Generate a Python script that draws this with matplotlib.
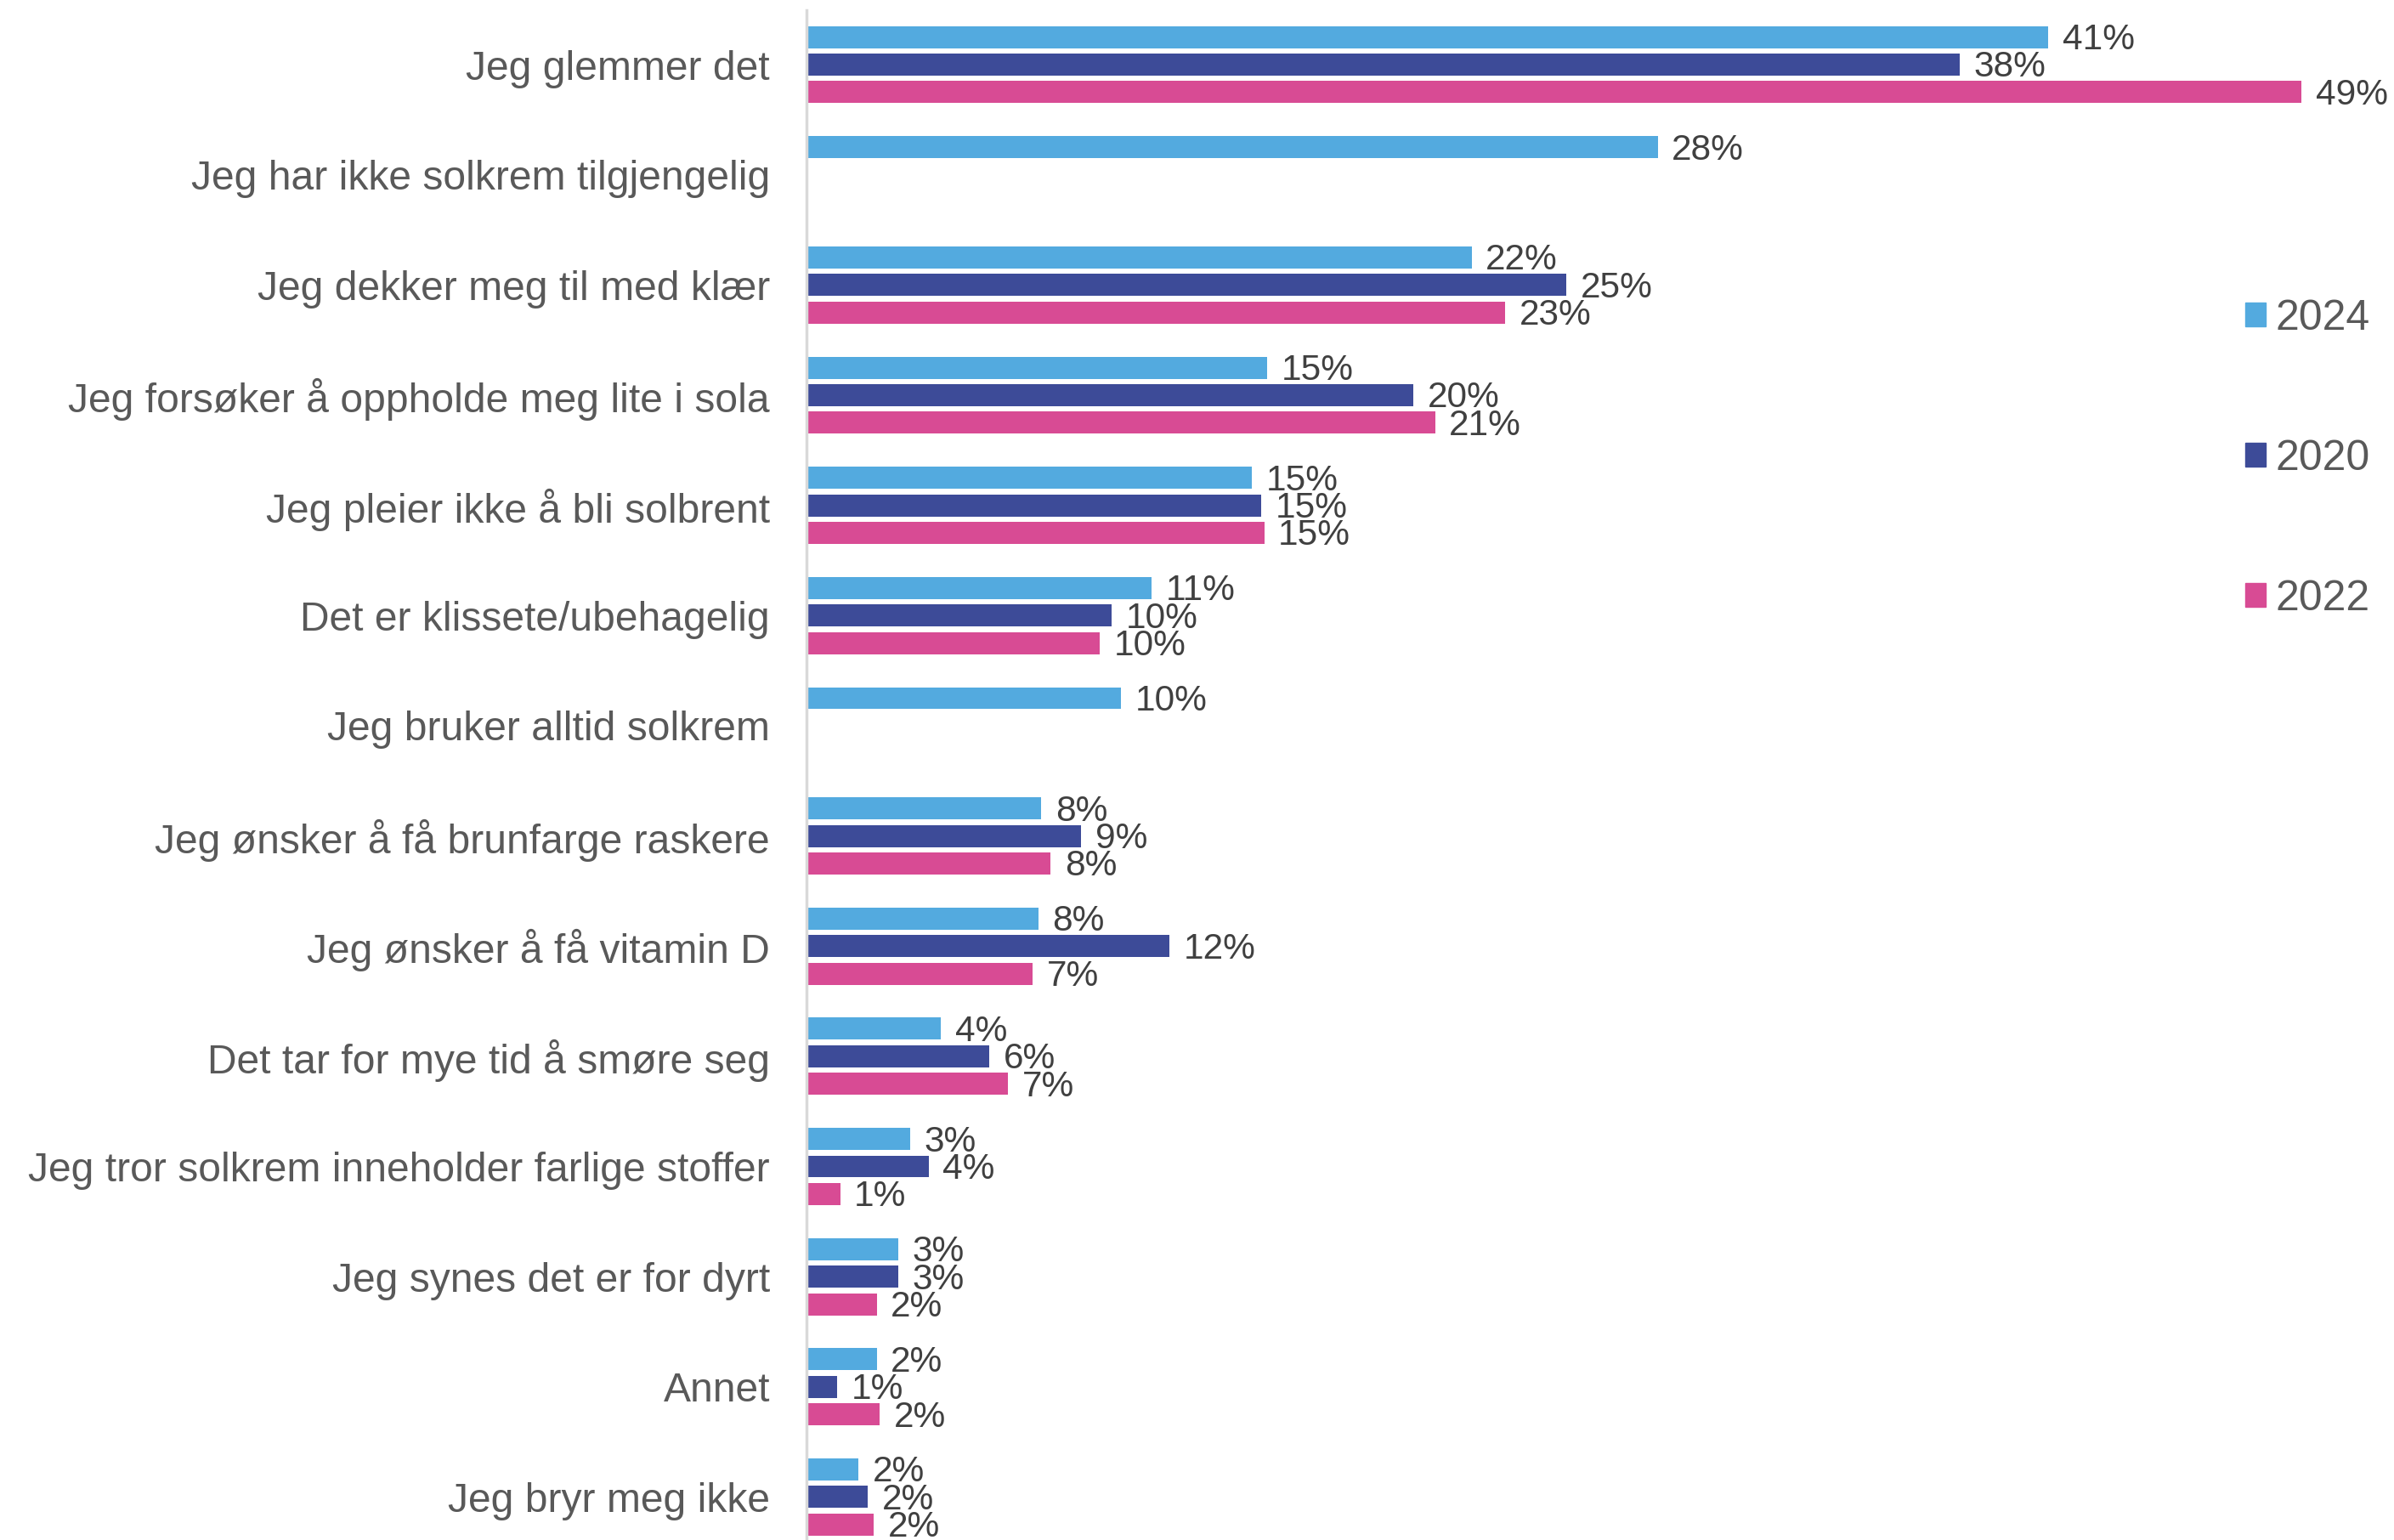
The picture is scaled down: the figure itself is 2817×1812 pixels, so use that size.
import numpy as np
import matplotlib
matplotlib.use("Agg")
import matplotlib.pyplot as plt
from matplotlib.patches import Patch

plt.rcParams['font.family'] = ['Liberation Sans', 'DejaVu Sans']

categories = [
    "Jeg glemmer det",
    "Jeg har ikke solkrem tilgjengelig",
    "Jeg dekker meg til med klær",
    "Jeg forsøker å oppholde meg lite i sola",
    "Jeg pleier ikke å bli solbrent",
    "Det er klissete/ubehagelig",
    "Jeg bruker alltid solkrem",
    "Jeg ønsker å få brunfarge raskere",
    "Jeg ønsker å få vitamin D",
    "Det tar for mye tid å smøre seg",
    "Jeg tror solkrem inneholder farlige stoffer",
    "Jeg synes det er for dyrt",
    "Annet",
    "Jeg bryr meg ikke",
]

# percent (NaN = not asked that year)
vals_2024 = [40.7, 27.9, 21.8, 15.1, 14.6, 11.3, 10.3, 7.7, 7.6, 4.4, 3.4, 3.0, 2.3, 1.7]
vals_2020 = [37.8, np.nan, 24.9, 19.9, 14.9, 10.0, np.nan, 9.0, 11.9, 6.0, 4.0, 3.0, 1.0, 2.0]
vals_2022 = [49.0, np.nan, 22.9, 20.6, 15.0, 9.6, np.nan, 8.0, 7.4, 6.6, 1.1, 2.3, 2.4, 2.2]

series = [("2024", vals_2024, "#53AADF"),
          ("2020", vals_2020, "#3D4B98"),
          ("2022", vals_2022, "#D84B94")]

fig = plt.figure(figsize=(28.17, 18.12), dpi=100)
ax = fig.add_axes([0.3369, 0.0, 1 - 0.3369, 0.9934])

y = np.arange(len(categories))
step = 0.25
bar_h = 0.2

for i, (name, vals, col) in enumerate(series):
    vals = np.array(vals, dtype=float)
    pos = y + (i - 1) * step
    ax.barh(pos, np.nan_to_num(vals), height=bar_h, color=col, label=name)
    for p, v in zip(pos, vals):
        if np.isnan(v):
            continue
        ax.annotate(f"{v:.0f}%", xy=(v, p), xytext=(12, -2.5), textcoords="offset points",
                    va="center", ha="left", fontsize=30.5, color="#404040")

ax.set_ylim(13.39, -0.494)
ax.set_xlim(0, 52.03)
ax.set_yticks(y)
ax.set_yticklabels(categories, fontsize=34.6, color="#595959")
ax.tick_params(axis="y", length=0, pad=31)
ax.set_xticks([])

for s in ["top", "right", "bottom"]:
    ax.spines[s].set_visible(False)
ax.spines["left"].set_color("#D9D9D9")
ax.spines["left"].set_linewidth(2.5)

handles = [Patch(color=c, label=n) for n, _, c in series]
leg = ax.legend(handles=handles, loc="center left", bbox_to_anchor=(0.938, 0.702),
                bbox_transform=fig.transFigure, frameon=False, fontsize=36,
                handlelength=0.48, handleheight=0.48, handletextpad=0.22,
                labelspacing=2.38, borderpad=0, borderaxespad=0)
for t in leg.get_texts():
    t.set_color("#595959")

fig.savefig("out.png", dpi=100)
